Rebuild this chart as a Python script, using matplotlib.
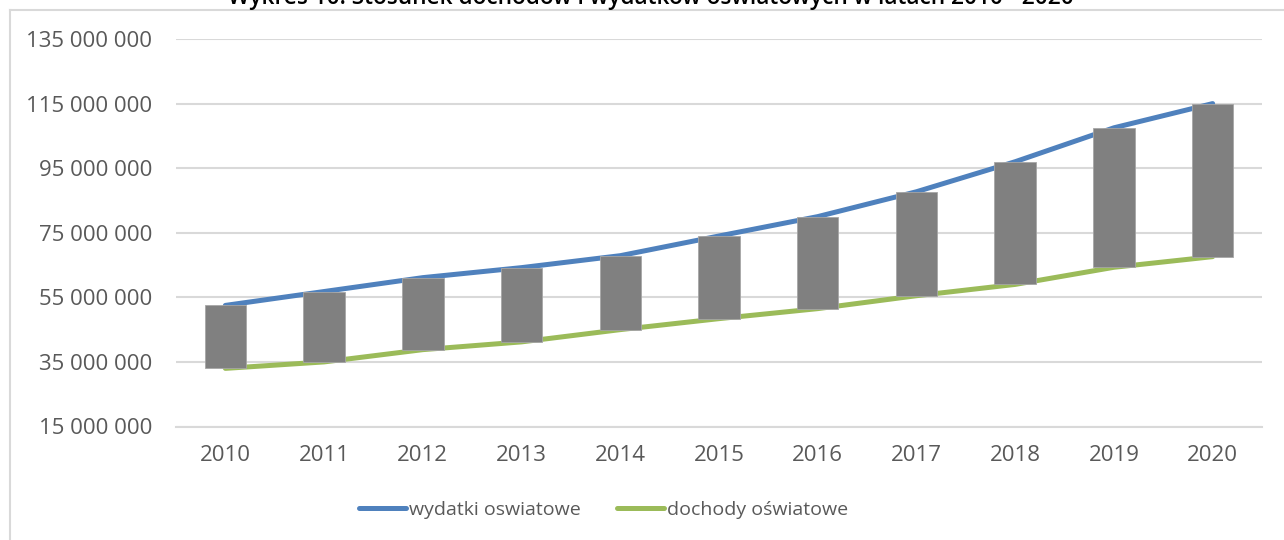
import matplotlib
matplotlib.use("Agg")
import matplotlib.pyplot as plt
from matplotlib.lines import Line2D
import numpy as np

years = ["2010", "2011", "2012", "2013", "2014", "2015", "2016", "2017", "2018", "2019", "2020"]
wydatki = [52.5e6, 56.8e6, 61.1e6, 64.2e6, 67.9e6, 74.0e6, 80.0e6, 87.7e6, 97.0e6, 107.5e6, 115.0e6]
dochody = [33.0e6, 35.0e6, 38.8e6, 41.2e6, 45.0e6, 48.4e6, 51.5e6, 55.5e6, 59.0e6, 64.3e6, 67.6e6]
yticks = [15e6, 35e6, 55e6, 75e6, 95e6, 115e6, 135e6]
title = "Wykres 10. Stosunek dochodów i wydatków oświatowych w latach 2010 - 2020"

plt.rcParams['font.family'] = ['Open Sans', 'DejaVu Sans']
txt = '#595959'
grid = '#D9D9D9'

fig = plt.figure(figsize=(12.84, 5.4), dpi=100)
W, H = 1284, 540
ax = fig.add_axes([176 / W, 1 - 426.5 / H, (1262 - 176) / W, (426.5 - 39) / H])

x = np.arange(len(years))
ax.plot(x, wydatki, color='#4F81BD', lw=3.6, solid_capstyle='round', zorder=2, label='wydatki oswiatowe')
ax.plot(x, dochody, color='#9BBB59', lw=3.6, solid_capstyle='round', zorder=2, label='dochody oświatowe')
ax.bar(x, np.array(wydatki) - np.array(dochody), bottom=dochody, width=0.42,
       color='#808080', edgecolor='#A6A6A6', linewidth=0.6, zorder=3)

ax.set_xlim(-0.5, len(years) - 0.5)
ax.set_ylim(15e6, 135e6)
ax.set_yticks(yticks)
ax.set_yticklabels([f"{int(v):,}".replace(",", " ") for v in yticks])
ax.set_xticks(x)
ax.set_xticklabels(years)
ax.tick_params(axis='both', length=0, labelsize=16, colors=txt)
ax.tick_params(axis='y', pad=17)
ax.tick_params(axis='x', pad=13)
ax.yaxis.grid(True, color=grid, lw=1.5, zorder=0)
for s in ['top', 'right', 'left']:
    ax.spines[s].set_visible(False)
ax.spines['bottom'].set_color(grid)
ax.spines['bottom'].set_linewidth(1.5)
ax.set_axisbelow(True)

leg = fig.legend(loc='center', bbox_to_anchor=(603.5 / W, 1 - 510 / H), ncol=2, frameon=False,
                 fontsize=14, handlelength=2.4, handletextpad=0.15, columnspacing=1.9,
                 labelcolor=txt)

# chart border (partially visible)
fig.add_artist(Line2D([9.5 / W, 9.5 / W], [0, 1 - 10 / H], color=grid, lw=1.5, transform=fig.transFigure))
fig.add_artist(Line2D([9.5 / W, 1], [1 - 10 / H, 1 - 10 / H], color=grid, lw=1.5, transform=fig.transFigure))

fig.text(651 / W, 1 - 4.5 / H, title, ha='center', va='baseline', fontsize=16.3, color='black',
         fontweight='semibold')

fig.savefig("out.png", dpi=100)
